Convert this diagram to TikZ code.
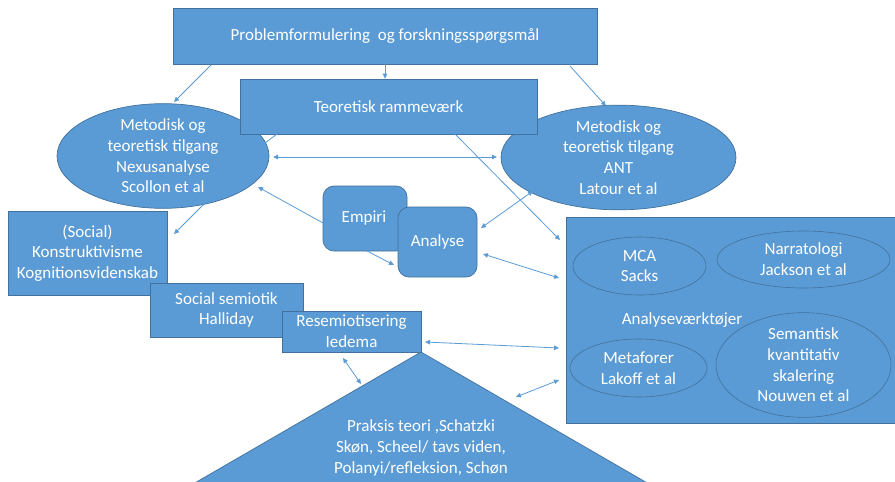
\documentclass[tikz,border=0pt]{standalone}
\usepackage{fontspec}
\setmainfont{Carlito}
\usetikzlibrary{shapes.geometric,arrows.meta,calc}
\definecolor{ofblue}{HTML}{5B9BD5}
\definecolor{ofborder}{HTML}{41719C}
\definecolor{lineblue}{HTML}{5B9BD5}
\tikzset{
  txt/.style={text=white,align=center,font=\fontsize{17}{20.7}\selectfont,inner sep=0pt},
  boxnode/.style={txt,rectangle,fill=ofblue,draw=ofborder,line width=0.7pt},
  rbox/.style={boxnode,rounded corners=11pt},
  ellnode/.style={txt,ellipse,fill=ofblue,draw=ofborder,line width=0.7pt,inner sep=0pt},
  innerell/.style={txt,ellipse,draw=ofborder,line width=0.6pt,inner sep=0pt},
  conn/.style={draw=lineblue,line width=0.8pt},
  arr/.style={conn,-{Triangle[length=5pt,width=4.5pt]}},
  darr/.style={conn,{Triangle[length=5pt,width=4.5pt]}-{Triangle[length=5pt,width=4.5pt]}}
}
\begin{document}
\begin{tikzpicture}[x=1pt,y=-1pt]
\useasboundingbox (0,0) rectangle (895,482);
\fill[white] (0,0) rectangle (895,482);

% ellipses (behind the theory box)
\node[ellnode,minimum width=212pt,minimum height=96pt] (lell) at (163,156)
  {Metodisk og\\teoretisk tilgang\\Nexusanalyse\\Scollon et al};
\node[ellnode,minimum width=235pt,minimum height=91pt] (rell) at (618.5,157.5)
  {Metodisk og\\teoretisk tilgang\\ANT\\Latour et al};

% top boxes
\node[boxnode,minimum width=424pt,minimum height=56pt] (top) at (385,36)
  {Problemformulering\ \ og forskningsspørgsmål};
\node[boxnode,minimum width=297pt,minimum height=55pt] (teo) at (388.5,106.5)
  {Teoretisk rammeværk};

% Empiri / Analyse
\node[rbox,minimum width=84pt,minimum height=65pt] (emp) at (365,218.5) {};
\node[txt] at (364,218) {Empiri};
\node[rbox,minimum width=79pt,minimum height=70pt] (ana) at (437.5,242) {Analyse};

% left stack of boxes
\node[boxnode,minimum width=159pt,minimum height=84pt] (soc) at (87.5,253)
  {(Social)\\Konstruktivisme\\Kognitionsvidenskab};
\node[boxnode,minimum width=153pt,minimum height=54pt] (sem) at (226.5,310)
  {Social semiotik\\Halliday};
\node[boxnode,minimum width=139pt,minimum height=41pt] (res) at (351.5,331.5)
  {Resemiotisering\\Iedema};

% triangle
\coordinate (triapex) at (421,352);
\coordinate (trileft) at (193,484);
\coordinate (triright) at (649,484);
\filldraw[fill=ofblue,draw=ofborder,line width=0.7pt] (triapex) -- (trileft) -- (triright) -- cycle;
\node[txt] (tritext) at (421,448)
  {Praksis teori ,Schatzki\\Skøn, Scheel/ tavs viden,\\Polanyi/refleksion, Schøn};

% right panel
\node[boxnode,minimum width=331pt,minimum height=206pt] (panel) at (731.5,320) {};
\node[innerell,minimum width=133pt,minimum height=58pt] (mca) at (639.5,266) {MCA\\Sacks};
\node[innerell,minimum width=173pt,minimum height=57pt] (nar) at (803.5,259.5) {Narratologi\\Jackson et al};
\node[innerell,minimum width=137pt,minimum height=58pt] (met) at (638.5,368) {Metaforer\\Lakoff et al};
\node[innerell,minimum width=175pt,minimum height=96pt] (smk) at (803.5,365)
  {Semantisk\\kvantitativ\\skalering\\Nouwen et al};
\node[txt] (avt) at (682,320) {Analyseværktøjer};

% connectors
\draw[arr] ($(top.center)+(-174,29)$) -- ($(lell.center)+(11,-54)$);
\draw[arr] (top.south) -- (top.south |- teo.north);
\draw[arr] ($(top.center)+(185,30)$) -- ($(rell.center)+(-12.5,-51.5)$);
\draw[conn] ($(teo.center)+(-111.5,27.5)$) -- ($(lell.center)+(102,-13)$);
\draw[darr] ($(lell.center)+(110,1)$) -- ($(rell.center)+(-121.5,-0.5)$);
\draw[arr] ($(emp.center)+(-42,4.5)$) -- ($(lell.center)+(95,31)$);
\draw[arr] ($(emp.center)+(2,32.5)$) -- ($(ana.center)+(-43.5,23)$);
\draw[darr] ($(ana.center)+(43.5,-14)$) -- ($(rell.center)+(-85.5,33.5)$);
\draw[arr] ($(teo.center)+(66.5,27.5)$) -- ($(panel.center)+(-171.5,-80)$);
\draw[darr] ($(ana.center)+(45.5,12)$) -- ($(panel.center)+(-172.5,-42)$);
\draw[darr] ($(res.center)+(73.5,10.5)$) -- ($(panel.center)+(-172.5,28)$);
\draw[darr] ($(tritext.center)+(95,-51)$) -- ($(panel.center)+(-172.5,60)$);
\draw[darr] ($(res.center)+(-8.5,26.5)$) -- ($(tritext.center)+(-60,-64)$);
\draw[arr] ($(lell.center)+(45,44)$) -- ($(soc.center)+(86.5,-19)$);
\end{tikzpicture}
\end{document}
